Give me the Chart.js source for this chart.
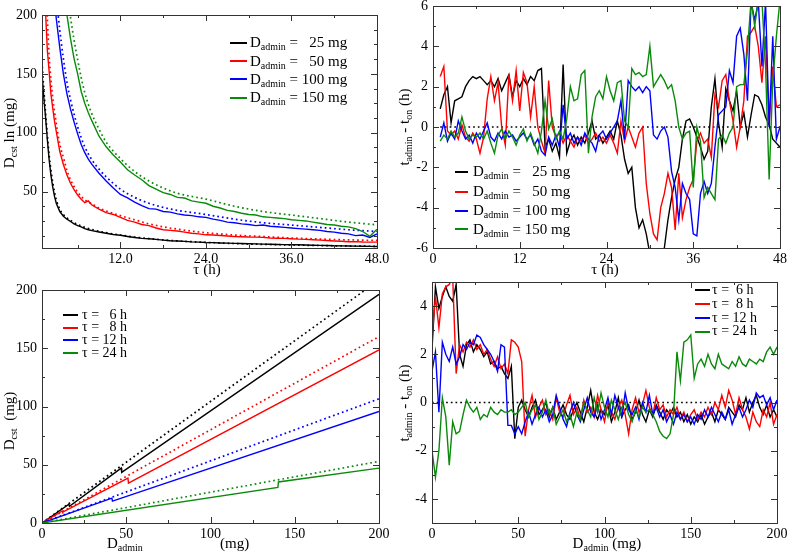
<!DOCTYPE html>
<html>
<head>
<meta charset="utf-8">
<script src="https://cdn.jsdelivr.net/npm/chart.js@4/dist/chart.umd.min.js"></script>
<style>
  html, body { margin: 0; padding: 0; background: #fff; }
  #page { position: relative; width: 787px; height: 556px; overflow: hidden;
          font-family: 'Liberation Serif', 'Times New Roman', serif; color: #000; }
  .panel { position: absolute; }
  .lbl { position: absolute; white-space: pre; font-size: 15px; line-height: 16px; }
  .lbl sub { font-size: 10px; line-height: 0; vertical-align: -3px; }
  .ctr { transform: translate(-50%, -50%); }
  .rot { transform: translate(-50%, -50%) rotate(-90deg); }
  .key { position: absolute; height: 2px; }
</style>
</head>
<body>
<div id="page">
  <div class="panel" style="left:0;top:0;width:393px;height:278px"><canvas id="chartA"></canvas></div>
  <div class="panel" style="left:393px;top:0;width:394px;height:278px"><canvas id="chartB"></canvas></div>
  <div class="panel" style="left:0;top:278px;width:393px;height:278px"><canvas id="chartC"></canvas></div>
  <div class="panel" style="left:393px;top:278px;width:394px;height:278px"><canvas id="chartD"></canvas></div>
</div>
<script>
// ---- panel A : D_cst vs tau (solid = estimate, dotted = reference) ----
const tauA = [1, 1.25, 1.5, 1.75, 2, 2.25, 2.5, 2.75, 3, 3.5, 4, 4.5, 5, 5.5, 6, 6.5, 7, 7.5, 8,
  9, 10, 11, 12, 13, 14, 15, 16, 17, 18, 19, 20, 21, 22, 23, 24, 25, 26, 27, 28, 29, 30,
  31, 32, 33, 34, 35, 36, 37, 38, 39, 40, 41, 42, 43, 44, 45, 46, 47, 48];
const dcst25 = [150, 130, 113, 94, 77, 64, 54, 46, 40, 33, 29, 26.5, 24.5, 22.5, 21, 20, 18.5, 17.5, 16.8,
  15.6, 14.5, 13.5, 12.8, 11.8, 10.9, 10.2, 9.8, 9.3, 8.7, 8.2, 7.9, 7.6, 7.2, 7.0, 6.7, 6.6, 6.3, 6.1, 5.9, 5.8, 5.6,
  5.5, 5.3, 5.2, 5.0, 4.9, 4.8, 4.7, 4.5, 4.4, 4.2, 4.1, 3.9, 3.8, 3.7, 3.6, 3.5, 3.4, 3.3];
const dcst50 = [null, null, 202, 170, 152, 133, 121, 110, 101, 84, 73, 64, 57, 51.5, 47, 43.5, 40.5, 42, 38.5,
  35, 32, 30.5, 28, 25.5, 24, 22, 21, 19, 17.5, 17, 16.5, 15.5, 14.5, 14, 13.2, 13, 12.6, 12.2, 11.8, 11.6, 11.3,
  11.2, 11.0, 10.5, 10.3, 10.2, 9.9, 9.5, 9.3, 9.0, 8.7, 8.4, 8.0, 7.7, 7.3, 7.4, 7.1, 7.0, 7.0];
const dcst100 = [null, null, null, null, null, null, null, 212, 197, 172, 150, 133, 120, 109, 99, 90, 83, 77.5, 73,
  65.5, 59, 53, 47.5, 44.5, 41, 38, 35.5, 35, 33, 32.5, 31, 30, 29.5, 28.5, 28, 26.5, 25.5, 24, 23.5, 22.5, 22,
  21, 21.5, 20.5, 20, 19.5, 19, 18.5, 18, 17.5, 17, 16, 15.5, 14.5, 14, 12.5, 13, 11, 14];
const dcst150 = [null, null, null, null, null, null, null, null, null, null, 228, 200, 180, 163, 150, 135, 125, 117, 110,
  97, 88, 81, 75, 68.5, 64, 60, 55, 52, 49, 47.5, 45, 44.5, 42, 41, 40, 37.5, 36, 34, 33, 31.5, 30.5,
  30, 28.5, 28, 27.5, 27, 26, 25.5, 25, 24, 23, 22, 21.5, 20.5, 20, 18.5, 16, 12, 18];
const tauRef = [1, 1.25, 1.5, 1.75, 2, 2.5, 3, 3.5, 4, 4.5, 5, 6, 7, 8, 9, 10, 12, 14, 16, 18, 20, 24, 28, 32, 36, 40, 44, 48];
const ref25 = [160, 137, 117, 98, 81, 58, 43, 35, 30.5, 27.5, 25.5, 22, 19.5, 17.7, 16.2, 15, 13, 11.3, 10, 8.9, 8, 6.8, 5.8, 5.1, 4.6, 4.1, 3.7, 3.4];
const ref50 = [null, null, 240, 197, 165, 130, 108, 90, 79, 68, 60, 49.5, 43, 39.5, 36, 33.5, 29.5, 26, 22.5, 20, 18, 15, 13, 11.7, 10.5, 9.6, 8.9, 8.4];
const ref100 = [null, null, null, null, null, null, 215, 187, 163, 143, 128, 105, 88, 77, 69, 62.5, 52, 45, 40, 36.5, 34, 30.5, 26.5, 23.5, 21.5, 19.5, 17.5, 16];
const ref150 = [null, null, null, null, null, null, null, null, 250, 222, 198, 162, 134, 116, 103, 92, 78, 67, 59, 53, 48.5, 43.5, 37.5, 33, 30, 27, 24, 21.7];

// ---- panel B : t_admin - t_on vs tau ----
const tauB = [1, 1.5, 2, 2.5, 3, 3.5, 4, 4.5, 5, 5.5, 6, 6.5, 7, 7.5, 8, 8.5, 9, 9.5, 10, 10.5,
  11, 11.5, 12, 12.5, 13, 13.5, 14, 14.5, 15, 15.5, 16, 16.5, 17, 17.5, 18, 18.5, 19, 19.5, 20, 20.5,
  21, 21.5, 22, 22.5, 23, 23.5, 24, 24.5, 25, 25.5, 26, 26.5, 27, 27.5, 28, 28.5, 29, 29.5, 30, 30.5,
  31, 31.5, 32, 32.5, 33, 33.5, 34, 34.5, 35, 35.5, 36, 36.5, 37, 37.5, 38, 38.5, 39, 39.5, 40, 40.5,
  41, 41.5, 42, 42.5, 43, 43.5, 44, 44.5, 45, 45.5, 46, 46.5, 47, 47.5, 48];
const lag25 = [0.9, 1.6, 2.0, 0.2, 1.3, 1.4, 1.5, 2.0, 2.3, 2.5,
  2.4, 2.5, 2.3, 2.1, 2.3, 2.0, 2.4, 1.8, 2.2, 2.6,
  1.5, 2.3, 2.0, 2.4, 2.1, 2.5, 2.3, 2.8, 2.9, -1.0,
  -0.6, -1.2, -0.8, -1.5, 3.1, -1.3, -0.7, -0.4, -0.9, -0.5,
  -0.8, -0.3, 0.3, -0.6, -0.4, -0.8, -0.5, -0.2, -0.6, 0.3,
  -0.4, -1.6, -2.3, -2.0, -4.0, -5.0, -4.6, -5.3, -6.3, -6.5,
  -6.5, -6.4, -6.0, -4.6, -3.5, -2.6, -2.0, -0.6, 0.3, 0.4,
  0.0, -0.5, -1.0, -1.6, -1.2, 1.0, 2.4, 0.2, -1.0, 1.9,
  1.3, 0.8, 1.8, 0.0, 0.7, -0.5, 0.6, 1.6, 1.5, 1.1,
  0.5, 0.1, -0.6, -0.8, -1.0];
const lag50 = [2.5, 3.0, -0.2, -0.4, -0.2, -0.6, 0.1, -0.5, -0.7, -0.3,
  -0.6, -1.3, -0.5, 1.4, 2.5, 1.3, 2.2, 0.0, -0.9, 2.6,
  1.3, 2.8, 0.8, 2.7, 2.2, 0.5, 2.0, 0.0, -0.7, -1.3,
  2.3, 0.0, -0.5, -0.3, -0.8, -0.4, -0.7, -1.0, -0.5, -0.7,
  -0.4, -0.8, -0.6, -0.3, -0.7, -0.5, -0.8, -0.4, -0.8, -1.3,
  0.3, -0.7, 0.0, -0.5, -1.0, -0.3, 0.0, -2.8, -4.3, -5.3,
  -5.6, -4.0, -3.3, -2.3, -3.0, -5.1, -2.3, -4.5, -3.6, -3.0,
  -2.6, -0.7, -0.3, -0.8, -0.6, -1.5, 1.6, 1.0, 2.3, 2.6,
  1.3, 0.3, -1.0, 0.0, 1.3, 4.5, 4.7, 5.0, 4.0, 2.2,
  4.5, 0.2, 3.0, 1.0, 1.1];
const lag100 = [-0.5, 0.2, -0.7, -0.3, -0.6, 0.3, -0.2, -0.6, -0.4, -0.8,
  -0.3, -0.6, -0.2, 0.2, -0.5, -0.7, -0.3, -0.6, -0.2, -0.5,
  -0.4, -0.7, -0.5, -0.3, -0.6, -0.4, -0.9, -0.6, -1.2, -1.4,
  -0.5, -0.9, -0.4, -1.0, 1.1, -0.6, -0.3, -0.8, -0.5, -0.9,
  -0.3, -0.6, -0.8, -1.2, -0.4, -0.2, -0.6, -0.3, 0.0, 0.3,
  1.3, -0.6, 2.3, 2.0, 1.8, 2.0, 1.7, 2.0, 1.8, -0.4,
  -0.6, -0.2, 0.0, -0.5, -2.2, -3.0, -4.6, -2.8, -3.3, -3.6,
  -5.3, -5.4, -3.3, -2.7, -3.3, -2.8, -1.0, 0.6, 0.8, 1.0,
  2.8, 2.2, 4.5, 4.9, 3.6, 1.3, 6.2, 5.3, 6.2, 3.0,
  6.2, 0.0, 4.5, -0.6, 0.0];
const lag150 = [-0.7, -0.4, -0.6, -0.2, -0.5, -0.3, 0.5, -0.2, -0.6, -0.4,
  -0.5, -0.3, -0.6, -0.2, -0.8, -1.3, -0.4, -0.1, -0.6, -0.2,
  -0.5, -0.9, -0.4, -0.1, -0.7, -0.3, -0.8, -1.3, -0.2, 1.3,
  -0.1, 0.4, -0.6, -0.2, -0.6, 0.4, 2.0, 1.3, 1.4, 2.6,
  2.8, -1.3, 0.5, 1.5, 1.8, 1.4, 2.5, 1.8, 1.3, 2.2,
  2.3, 0.3, 0.0, 2.9, 2.6, 2.7, 2.5, 2.6, 4.0, 2.0,
  2.3, 2.6, 2.3, 1.9, 2.1, 1.3, 0.0, -0.6, -0.3, -0.2,
  -3.0, 0.0, -0.7, -3.5, -3.0, -3.3, -3.6, -0.6, -0.4, -0.8,
  -0.3, 0.0, 2.0, 2.1, 2.1, 3.8, 6.3, 5.0, 6.3, 6.3,
  3.0, -2.6, 2.3, 4.5, 6.3];
const zeroTauB = [1, 48];

// ---- panel C : D_cst vs D_admin (straight segments) ----
const dose6h = [0, 16, 16.3, 47, 47.3, 200];
const dcst6h = [0, 16.2, 14.3, 47.1, 43.4, 196.3];
const dose8h = [0, 12, 12.3, 51, 51.3, 200];
const dcst8h = [0, 10.3, 9.3, 38.6, 34.3, 148.6];
const dose12h = [0, 41.5, 41.8, 200];
const dcst12h = [0, 21.4, 18.8, 95.7];
const dose24h = [0, 140, 140.3, 200];
const dcst24h = [0, 30.6, 35.2, 47.1];
const doseRef = [0, 200];
const ref6h = [0, 208.6];
const ref8h = [0, 160];
const ref12h = [0, 106.6];
const ref24h = [0, 52.9];

// ---- panel D : t_admin - t_on vs D_admin ----
const doseD = [0, 2, 4, 6, 8, 10, 12, 14, 16, 18, 20, 22, 24, 26, 28, 30, 32, 34, 36, 38,
  40, 42, 44, 46, 48, 50, 52, 54, 56, 58, 60, 62, 64, 66, 68, 70, 72, 74, 76, 78,
  80, 82, 84, 86, 88, 90, 92, 94, 96, 98, 100, 102, 104, 106, 108, 110, 112, 114, 116, 118,
  120, 122, 124, 126, 128, 130, 132, 134, 136, 138, 140, 142, 144, 146, 148, 150, 152, 154, 156, 158,
  160, 162, 164, 166, 168, 170, 172, 174, 176, 178, 180, 182, 184, 186, 188, 190, 192, 194, 196, 198, 200];
const lag6h = [2.2, 4.8, 3.9, 4.4, 4.8, 4.4, 4.2, 4.9, 2.0, 1.5,
  2.4, 2.6, 2.1, 2.4, 2.2, 1.9, 2.1, 1.6, 1.7, 1.4,
  1.5, 1.2, 1.0, 1.5, -1.5, -0.2, 0.1, -0.3, -0.6, -0.2,
  0.1, -0.5, -0.3, 0.0, -0.6, -0.2, -0.7, -0.4, -0.1, -0.5,
  -0.7, -0.3, 0.0, -0.4, -0.8, -0.2, 0.5, -0.4, -0.7, -0.3,
  -0.5, -0.1, -0.8, -0.4, 0.2, -0.6, -0.3, -0.1, -0.7, -0.4,
  0.1, -0.5, -0.8, -0.3, -0.6, -0.1, -0.4, -0.7, -0.3, -0.5,
  -0.2, -0.6, -0.4, -0.8, -0.5, -0.9, -0.6, -0.8, -0.5, -0.9,
  -0.6, -0.4, -0.8, -0.3, -0.5, -0.7, -0.2, -0.4, -0.6, -0.1,
  -0.3, 0.2, -0.4, 0.0, 0.3, -0.2, -0.5, -0.1, -0.6, -0.3,
  -0.6];
const lag8h = [2.7, 4.4, 3.1, 4.5, 4.8, 4.9, 5.2, 1.2, 2.4, 2.1,
  2.5, 2.3, 2.6, 2.2, 2.4, 2.0, 2.2, 1.8, 1.5, 1.9,
  1.4, 1.6, 1.2, 2.6, 2.5, 2.3, 1.7, -1.4, -0.3, 0.3,
  -0.6, -0.2, 0.1, -0.5, -0.3, -0.7, 0.2, -0.4, -0.6, -0.1,
  0.3, -0.5, -0.2, -0.7, 0.1, -0.4, -0.2, -0.6, 0.3, -0.3,
  -0.8, 0.0, -0.4, -0.7, -0.2, 0.1, -0.5, -1.3, -0.3, 0.2,
  -0.4, -0.1, 0.5, -0.2, -0.5, 0.2, -0.3, -0.1, -0.6, -0.3,
  -0.5, -0.2, -0.7, -0.4, -0.8, -0.5, -0.3, -0.7, -0.4, -0.6,
  -0.2, -0.5, 0.0, -0.3, 0.3, -0.2, 0.5, 0.1, -0.5, 0.2,
  -0.3, -0.6, -1.1, -0.4, -0.8, -1.0, -0.3, -0.6, 0.0, -0.9,
  -0.5];
const lag12h = [1.3, 2.1, -0.4, 2.5, 2.0, 1.7, 2.3, 1.6, 1.9, 2.4,
  2.2, 2.5, 2.4, 2.8, 2.7, 2.4, 2.2, 2.0, 1.7, 1.3,
  2.4, 2.3, -0.95, -0.95, -1.3, -1.0, -1.3, -0.8, -0.4, -0.9,
  -0.5, -0.2, -0.6, -0.3, -0.8, -0.5, 0.3, -0.2, -0.7, -1.0,
  -0.4, 0.0, -0.5, -0.8, -0.3, 0.2, -0.4, -0.6, -0.1, -0.7,
  -0.3, 0.2, -0.5, 0.3, -0.2, -0.6, 0.4, -0.3, -0.5, -0.2,
  -0.7, 0.0, -0.4, 0.3, -0.5, -0.2, -0.6, -0.3, -0.8, -0.5,
  -0.9, -0.4, -0.7, -0.5, -0.8, -0.6, -0.9, -0.5, -0.7, -0.3,
  -0.6, -0.2, -0.5, -0.8, -0.4, -0.7, -0.3, -0.9, -0.5, -0.2,
  -0.6, -0.3, 0.1, -0.2, 0.4, 0.2, 0.3, -0.1, 0.2, -0.3,
  0.1];
const lag24h = [-2.0, -3.1, -2.0, 0.2, -0.6, -2.6, -0.8, -1.3, -1.2, -0.5,
  0.1, -0.2, -0.4, -0.2, -0.7, -0.5, -0.6, -0.2, -0.4, -0.5,
  -0.3, -0.4, -0.4, -0.3, -0.5, -0.4, -0.2, 0.0, -0.6, -0.3,
  -0.1, -0.7, -0.4, 0.1, -0.5, -0.2, -0.9, -0.6, -0.3, -0.8,
  -0.5, -1.0, -0.4, -0.7, 0.0, -0.3, -0.6, 0.2, -0.4, 0.4,
  -0.2, -0.6, 0.1, -0.3, -0.7, -0.2, 0.0, -0.5, -0.8, -0.3,
  -0.6, -0.2, -0.4, -0.3, -0.5, -0.8, -1.2, -1.4, -1.5, -1.3,
  -0.5, 2.1, 0.9, 2.5, 2.6, 2.8, 1.0, 1.6, 1.8, 1.5,
  2.0, 1.6, 1.4, 2.0, 1.6, 1.5, 1.4, 1.7, 1.5, 1.9,
  1.6, 1.5, 1.8, 1.7, 1.6, 1.8, 1.7, 2.1, 2.3, 2.0,
  2.3];
const zeroDoseD = [0, 200];

// tick labels and legend names
const tauTicksA = [12, 24, 36, 48];
const dcstTicksA = [50, 100, 150, 200];
const tauTicksB = [0, 12, 24, 36, 48];
const lagTicksB = [-6, -4, -2, 0, 2, 4, 6];
const doseTicks = [0, 50, 100, 150, 200];
const dcstTicksC = [0, 50, 100, 150, 200];
const lagTicksD = [-4, -2, 0, 2, 4];
const doseNames = ['  25', '  50', '100', '150'];
const tauNamesC = ['  6', '  8', '12', '24'];
const tauNamesD = [' 6', ' 8', '12', '24'];

const colors = ['#000000', '#ff0000', '#0000ff', '#0a8a0a'];
const tickFont = { family: "'Liberation Serif', 'Times New Roman', serif", size: 14 };

function pts(xs, ys) {
  return xs.map((x, i) => ({ x: x, y: ys[i] }));
}
function solid(xs, ys, color) {
  return { data: pts(xs, ys), borderColor: color, borderWidth: 1.4, showLine: true,
           pointRadius: 0, clip: 0, spanGaps: false };
}
function dotted(xs, ys, color) {
  return { data: pts(xs, ys), borderColor: color, borderWidth: 1.7, borderDash: [1.7, 3],
           showLine: true, pointRadius: 0, clip: 0, cubicInterpolationMode: 'monotone' };
}

// box around the plot plus inward major/minor ticks on all four sides
const frameTicks = {
  id: 'frameTicks',
  afterDatasetsDraw(chart, args, opts) {
    const { ctx, chartArea: a, scales: { x, y } } = chart;
    ctx.save();
    ctx.strokeStyle = '#333';
    ctx.lineWidth = 1;
    ctx.beginPath();
    const xs = [], ys = [];
    x.ticks.forEach(t => xs.push([t.value, 6]));
    y.ticks.forEach(t => ys.push([t.value, 6]));
    for (let v = Math.ceil(x.min / opts.xMinor) * opts.xMinor; v <= x.max; v += opts.xMinor) xs.push([v, 3]);
    for (let v = Math.ceil(y.min / opts.yMinor) * opts.yMinor; v <= y.max; v += opts.yMinor) ys.push([v, 3]);
    xs.forEach(([v, len]) => {
      const p = Math.round(x.getPixelForValue(v)) + 0.5;
      ctx.moveTo(p, a.bottom); ctx.lineTo(p, a.bottom - len);
      ctx.moveTo(p, a.top); ctx.lineTo(p, a.top + len);
    });
    ys.forEach(([v, len]) => {
      const p = Math.round(y.getPixelForValue(v)) + 0.5;
      ctx.moveTo(a.left, p); ctx.lineTo(a.left + len, p);
      ctx.moveTo(a.right, p); ctx.lineTo(a.right - len, p);
    });
    ctx.stroke();
    ctx.strokeRect(Math.round(a.left) + 0.5, Math.round(a.top) + 0.5,
                   Math.round(a.right - a.left), Math.round(a.bottom - a.top));
    ctx.restore();
  }
};

function makeChart(id, box, xs, ys, datasets) {
  // box: wanted plot area inside the panel (left, top, right, bottom) and panel size
  return new Chart(document.getElementById(id), {
    type: 'scatter',
    data: { datasets: datasets },
    plugins: [frameTicks],
    options: {
      animation: false,
      responsive: true,
      maintainAspectRatio: false,
      layout: { padding: { left: 0, top: box.top, right: box.w - box.right, bottom: 0 } },
      plugins: {
        legend: { display: false },
        tooltip: { enabled: false },
        frameTicks: { xMinor: xs.minor, yMinor: ys.minor }
      },
      scales: {
        x: {
          type: 'linear', min: xs.min, max: xs.max,
          grid: { display: false, drawTicks: false }, border: { display: false },
          ticks: { font: tickFont, color: '#000', padding: 3, maxRotation: 0, autoSkip: false,
                   callback: xs.fmt || (v => String(v)) },
          afterBuildTicks: s => { s.ticks = xs.ticks.map(v => ({ value: v })); },
          afterFit: s => { s.height = box.h - box.bottom; s.paddingLeft = 0; s.paddingRight = 0; }
        },
        y: {
          type: 'linear', min: ys.min, max: ys.max,
          grid: { display: false, drawTicks: false }, border: { display: false },
          ticks: { font: tickFont, color: '#000', padding: 5, autoSkip: false,
                   callback: v => String(v) },
          afterBuildTicks: s => { s.ticks = ys.ticks.map(v => ({ value: v })); },
          afterFit: s => { s.width = box.left; s.paddingTop = 0; s.paddingBottom = 0; }
        }
      }
    }
  });
}

makeChart('chartA', { left: 42, top: 15, right: 377, bottom: 248, w: 393, h: 278 },
  { min: 1, max: 48, ticks: tauTicksA, minor: 6, fmt: v => v.toFixed(1) },
  { min: 2, max: 200, ticks: dcstTicksA, minor: 12.5 },
  [solid(tauA, dcst150, colors[3]), dotted(tauRef, ref150, colors[3]),
   solid(tauA, dcst100, colors[2]), dotted(tauRef, ref100, colors[2]),
   solid(tauA, dcst50, colors[1]), dotted(tauRef, ref50, colors[1]),
   solid(tauA, dcst25, colors[0]), dotted(tauRef, ref25, colors[0])]);

const zeroB = dotted(zeroTauB, [0, 0], '#000');
zeroB.cubicInterpolationMode = 'default';
makeChart('chartB', { left: 40, top: 6, right: 387, bottom: 248, w: 394, h: 278 },
  { min: 0, max: 48, ticks: tauTicksB, minor: 6 },
  { min: -6, max: 6, ticks: lagTicksB, minor: 1 },
  [solid(tauB, lag150, colors[3]), solid(tauB, lag100, colors[2]),
   solid(tauB, lag50, colors[1]), solid(tauB, lag25, colors[0]), zeroB]);

makeChart('chartC', { left: 42, top: 12, right: 379, bottom: 245, w: 393, h: 278 },
  { min: 0, max: 200, ticks: doseTicks, minor: 25 },
  { min: 0, max: 200, ticks: dcstTicksC, minor: 25 },
  [solid(dose24h, dcst24h, colors[3]), dotted(doseRef, ref24h, colors[3]),
   solid(dose12h, dcst12h, colors[2]), dotted(doseRef, ref12h, colors[2]),
   solid(dose8h, dcst8h, colors[1]), dotted(doseRef, ref8h, colors[1]),
   solid(dose6h, dcst6h, colors[0]), dotted(doseRef, ref6h, colors[0])]);

const zeroD = dotted(zeroDoseD, [0, 0], '#000');
zeroD.cubicInterpolationMode = 'default';
makeChart('chartD', { left: 39, top: 4, right: 384, bottom: 245, w: 394, h: 278 },
  { min: 0, max: 200, ticks: doseTicks, minor: 25 },
  { min: -5, max: 5, ticks: lagTicksD, minor: 1 },
  [solid(doseD, lag24h, colors[3]), solid(doseD, lag12h, colors[2]),
   solid(doseD, lag8h, colors[1]), solid(doseD, lag6h, colors[0]), zeroD]);

// ---- text overlays (axis titles with subscripts, legends) ----
const page = document.getElementById('page');
function put(html, x, y, cls, extra) {
  const d = document.createElement('div');
  d.className = 'lbl ' + (cls || '');
  d.innerHTML = html;
  d.style.left = x + 'px';
  d.style.top = y + 'px';
  if (extra) d.style.cssText += extra;
  page.appendChild(d);
  return d;
}
function legend(names, before, after, x1, x2, tx, rows, size) {
  names.forEach((n, i) => {
    const k = document.createElement('div');
    k.className = 'key';
    k.style.left = x1 + 'px';
    k.style.width = (x2 - x1) + 'px';
    k.style.top = Math.round(rows[i] - 1) + 'px';
    k.style.background = colors[i];
    page.appendChild(k);
    put(before + n + after, tx, rows[i] - 8.5, '', 'font-size:' + size + 'px');
  });
}

put('τ (h)', 207, 269, 'ctr');
put('D<sub>cst</sub> ln (mg)', 9, 133, 'rot');
put('τ (h)', 605, 269, 'ctr');
put('t<sub>admin</sub> - t<sub>on</sub> (h)', 404, 127, 'rot');
put('D<sub>admin</sub>', 107, 535);
put('(mg)', 220, 535);
put('D<sub>cst</sub>  (mg)', 9, 421, 'rot');
put('D<sub>admin</sub> (mg)', 607, 543, 'ctr');
put('t<sub>admin</sub> - t<sub>on</sub> (h)', 404, 403, 'rot');

legend(doseNames, 'D<sub>admin</sub> = ', ' mg', 230, 247, 250, [42.7, 61, 79.3, 97.7], 15);
legend(doseNames, 'D<sub>admin</sub> = ', ' mg', 455, 468, 473, [171.7, 191.7, 210.7, 229.3], 15);
legend(tauNamesC, 'τ = ', ' h', 63, 78, 82, [315, 327.7, 340, 353.3], 14);
legend(tauNamesD, 'τ = ', ' h', 695, 710, 712, [290, 304.3, 318.3, 331.7], 14);
</script>
</body>
</html>
